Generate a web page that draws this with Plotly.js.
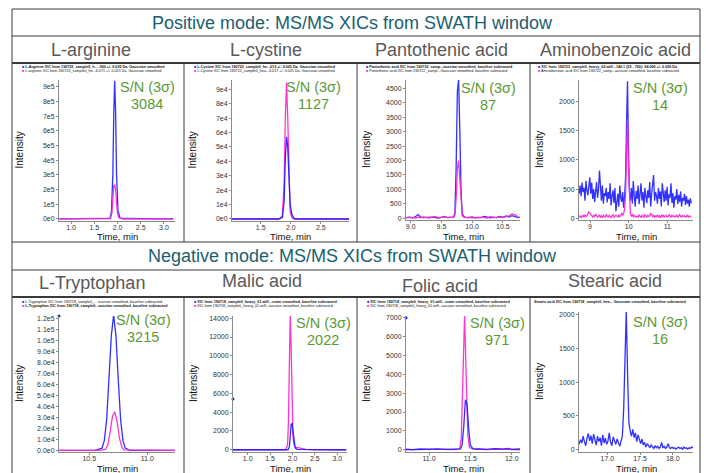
<!DOCTYPE html>
<html><head><meta charset="utf-8">
<script src="https://cdn.plot.ly/plotly-3.0.1.min.js"></script>
<style>html,body{margin:0;padding:0;background:#fff}#chart{width:706px;height:473px}</style>
</head><body><div id="chart"></div>
<script>
// ---------------- DATA ----------------
const sectionTitles = ['Positive mode: MS/MS XICs from SWATH window', 'Negative mode: MS/MS XICs from SWATH window'];
const compounds = ['L-arginine', 'L-cystine', 'Pantothenic acid', 'Aminobenzoic acid', 'L-Tryptophan', 'Malic acid', 'Folic acid', 'Stearic acid'];
const snValues = ['3084', '1127', '87', '14', '3215', '2022', '971', '16'];

// L-arginine
const argBlueT = [0.75,1.0,1.5,1.8,1.84,1.87,1.90,1.92,1.94,1.96,1.98,2.01,2.05,2.1,2.2,2.3,2.4,2.6,3.0,3.2];
const argBlueI = [0,0,0,0,3000,50000,300000,720000,940000,720000,300000,60000,8000,3000,2500,2000,1000,0,0,0];
const argPinkT = [0.75,1.0,1.5,1.8,1.85,1.88,1.90,1.92,1.94,1.96,1.98,2.0,2.03,2.06,2.1,2.2,2.3,2.5,3.0,3.2];
const argPinkI = [0,0,0,0,5000,40000,150000,225000,230000,200000,110000,40000,8000,2000,0,0,0,0,0,0];
// L-cystine
const cysPinkT = [1.0,1.5,1.8,1.86,1.89,1.91,1.93,1.95,1.97,1.99,2.02,2.05,2.5,2.97];
const cysPinkI = [0,0,0,2000,25000,70000,95000,70000,25000,5000,1000,0,0,0];
const cysBlueT = [1.0,1.5,1.8,1.86,1.89,1.91,1.93,1.95,1.97,1.99,2.02,2.05,2.08,2.5,2.97];
const cysBlueI = [0,0,0,1000,12000,42000,57000,50000,28000,10000,3000,800,0,0,0];
// Pantothenic acid
const panT = [8.93,8.98,9.03,9.08,9.12,9.16,9.2,9.25,9.3,9.35,9.4,9.45,9.5,9.55,9.6,9.65,9.7,9.72,9.74,9.76,9.78,9.80,9.82,9.84,9.87,9.9,9.95,10.0,10.05,10.1,10.15,10.2,10.25,10.3,10.35,10.4,10.45,10.5,10.55,10.6,10.65,10.7,10.75,10.8,10.85,10.88];
const panBlueI = [20,40,15,60,130,40,20,30,15,40,25,10,30,60,20,35,40,200,1800,4400,4800,3000,900,150,50,30,20,45,15,30,20,60,30,15,40,25,60,30,80,40,90,60,20,40,15,30];
const panPinkI = [10,30,20,10,40,20,50,30,10,40,60,20,30,50,20,40,30,100,700,1700,2000,1300,400,80,30,20,40,10,30,20,40,30,10,60,20,30,50,20,60,80,150,120,40,20,30,10];
// Aminobenzoic acid (sampled every 0.025 min from 8.72 min)
const abStart = 8.72, abStep = 0.025;
const abBlueI = [420,560,380,610,450,520,300,640,480,390,
  550,700,420,610,330,500,280,460,620,350,
  480,820,400,300,560,250,430,380,520,270,
  450,330,600,220,380,480,260,520,120,310,
  420,200,560,350,280,450,180,380,700,1600,
  2350,1200,450,300,520,250,640,380,200,470,
  330,560,240,420,600,300,450,180,520,380,
  260,480,350,620,200,420,560,740,300,450,
  380,250,520,330,460,200,600,350,280,480,
  300,540,220,410,350,600,260,430,180,380,
  320,500,240,400,280,460,200,350,300,420,
  230,380,250,320,200,340,260];
const abPinkI = [20,40,10,30,50,20,60,30,40,80,
  110,90,60,40,20,50,30,70,40,20,
  30,60,20,40,10,50,30,20,60,40,
  20,50,30,10,40,60,20,30,50,40,
  20,60,30,40,90,50,80,150,400,1100,
  1700,900,250,80,40,60,20,50,30,20,
  40,20,60,30,10,50,30,20,60,40,
  20,50,30,40,90,60,30,50,20,40,
  30,60,20,40,10,50,30,60,20,40,
  50,20,30,60,40,20,50,30,40,20,
  30,50,20,40,60,30,20,50,30,40,
  20,30,50,20,40,30,20];
// L-Tryptophan
const trpBlueT = [10.24,10.4,10.55,10.61,10.63,10.65,10.67,10.69,10.71,10.73,10.75,10.77,10.79,10.81,10.85,11.0,11.24];
const trpBlueI = [0,0,0,2000,9000,28000,64000,104000,123000,104000,64000,28000,9000,2000,0,0,0];
const trpPinkT = [10.24,10.4,10.6,10.64,10.66,10.68,10.70,10.72,10.74,10.76,10.78,10.8,11.0,11.24];
const trpPinkI = [0,0,0,1000,5000,17000,31000,35000,26000,11000,3000,500,0,0];
// Malic acid
const malPinkT = [0.67,1.0,1.5,1.85,1.89,1.91,1.93,1.95,1.97,1.99,2.01,2.03,2.06,2.1,2.2,2.3,2.5,3.0,3.2];
const malPinkI = [0,0,0,0,500,3000,9000,14300,11000,5000,1500,600,300,250,150,50,0,0,0];
const malBlueT = [0.67,1.0,1.5,1.9,1.93,1.95,1.97,1.99,2.01,2.03,2.06,2.1,2.5,3.0,3.2];
const malBlueI = [0,0,0,0,300,1500,2700,2800,2000,800,200,50,0,0,0];
// Folic acid
const folPinkT = [10.72,10.8,10.9,11.0,11.1,11.2,11.3,11.37,11.39,11.41,11.43,11.45,11.47,11.49,11.52,11.56,11.6,11.7,11.8,11.9,12.0,12.1];
const folPinkI = [0,20,10,30,10,20,10,40,600,3800,7100,3800,700,120,60,40,30,10,40,20,10,0];
const folBlueT = [10.72,10.8,10.9,11.0,11.1,11.2,11.3,11.38,11.40,11.42,11.44,11.46,11.48,11.50,11.53,11.56,11.6,11.7,11.8,11.9,11.95,12.0,12.1];
const folBlueI = [30,10,40,20,50,20,30,40,250,1200,2650,2400,1100,250,60,30,50,20,60,30,70,20,40];
// Stearic acid (sampled every 0.02 min from 16.57 min)
const steStart = 16.57, steStep = 0.02;
const steBlueI = [80,150,100,200,120,60,180,240,130,210,
  90,230,150,70,200,120,180,60,220,100,
  170,80,130,250,110,60,190,140,80,160,
  110,50,130,200,600,1600,2050,1100,400,280,
  200,300,180,250,120,220,150,90,160,70,
  110,40,90,50,30,70,40,20,60,30,
  50,20,40,110,30,50,20,40,90,30,
  20,40,20,30,10,20,40,20,30,10,
  40,20,30,10,30,20,40,30];
// cursor dots drawn on the y axis in the software export
const malCursor = [5400], folCursor = [7000], trpCursor = [122000];

// tick labels
const argYT = [0,1e5,2e5,3e5,4e5,5e5,6e5,7e5,8e5,9e5];
const argYL = ['0e0','1e5','2e5','3e5','4e5','5e5','6e5','7e5','8e5','9e5'];
const argXT = [1.0,1.5,2.0,2.5,3.0], argXL = ['1.0','1.5','2.0','2.5','3.0'];
const cysYT = [0,1e4,2e4,3e4,4e4,5e4,6e4,7e4,8e4,9e4];
const cysYL = ['0e0','1e4','2e4','3e4','4e4','5e4','6e4','7e4','8e4','9e4'];
const cysXT = [1.5,2.0,2.5], cysXL = ['1.5','2.0','2.5'];
const panYT = [0,500,1000,1500,2000,2500,3000,3500,4000,4500];
const panXT = [9.0,9.5,10.0,10.5], panXL = ['9.0','9.5','10.0','10.5'];
const abYT = [0,500,1000,1500,2000];
const abXT = [9,10,11], abXL = ['9','10','11'];
const trpYT = [0,1e4,2e4,3e4,4e4,5e4,6e4,7e4,8e4,9e4,1e5,1.1e5,1.2e5];
const trpYL = ['0.0e0','1.0e4','2.0e4','3.0e4','4.0e4','5.0e4','6.0e4','7.0e4','8.0e4','9.0e4','1.0e5','1.1e5','1.2e5'];
const trpXT = [10.5,11.0], trpXL = ['10.5','11.0'];
const malYT = [0,2000,4000,6000,8000,10000,12000,14000];
const malXT = [1.0,1.5,2.0,2.5,3.0], malXL = ['1.0','1.5','2.0','2.5','3.0'];
const folYT = [0,1000,2000,3000,4000,5000,6000,7000];
const folXT = [11.0,11.5,12.0], folXL = ['11.0','11.5','12.0'];
const steYT = [0,500,1000,1500,2000];
const steXT = [17.0,17.5,18.0], steXL = ['17.0','17.5','18.0'];

// legend strings
const legendLines = [
  ['L-Arginine XIC from 190722_sample0_h... .900 +/- 0.025 Da, Gaussian smoothed', 'L-arginine XIC from 190722_sample0_he...6.071 +/- 0.025 Da, Gaussian smoothed'],
  ['L-Cystine XIC from 190722_sample0_he...013 +/- 0.025 Da, Gaussian smoothed', 'L-Cystine XIC from 190722_sample0_hea...4.017 +/- 0.025 Da, Gaussian smoothed'],
  ['Pantothenic acid XIC from 190722_samp...aussian smoothed, baseline subtracted', 'Pantothenic acid XIC from 190722_sampl...Gaussian smoothed, baseline subtracted'],
  ['XIC from 190722_sample0_heavy_02.wiff...140.1 (25 - 700): 94.000 +/- 0.025 Da', 'Aminobenzoic acid XIC from 190722_samp...aussian smoothed, baseline subtracted'],
  ['L-Tryptophan XIC from 190718_sample0_... aussian smoothed, baseline subtracted', 'L-Tryptophan XIC from 190718_sample0...aussian smoothed, baseline subtracted'],
  ['XIC from 190718_sample0_heavy_01.wiff...ssian smoothed, baseline subtracted', 'XIC from 190718_sample0_heavy_01.wiff...aussian smoothed, baseline subtracted'],
  ['XIC from 190718_sample0_heavy_01.wiff...ssian smoothed, baseline subtracted', 'XIC from 190718_sample0_heavy_01.wiff...aussian smoothed, baseline subtracted'],
  ['Stearic acid XIC from 190718_sample0_hea... Gaussian smoothed, baseline subtracted']
];
const legendBold = [0, 0, 0, 0, 1, 0, 0, 0];

// ---------------- LAYOUT / STYLE ----------------
const W = 706, H = 473;
const BLUE = 'rgba(30,30,255,0.92)', PINK = 'rgba(255,40,210,0.95)';
const GREEN = '#5b9a32', TEAL = '#1b5e6f', GREY = '#595959';
const FONT = 'Liberation Sans, Arial, sans-serif';
const px = v => v / W, py = v => 1 - v / H;

// plot boxes [left,right,top,bottom] in px, with axis ranges
const boxes = [
  {b:[59,175,80,221],  xr:[0.742,3.237], yr:[-14000,946000], xt:argXT, xl:argXL, yt:argYT, yl:argYL},
  {b:[232,349,80,221], xr:[1.022,2.97],  yr:[-1400,96500],   xt:cysXT, xl:cysXL, yt:cysYT, yl:cysYL},
  {b:[406,520,80,220], xr:[8.923,10.78], yr:[-60,4790],      xt:panXT, xl:panXL, yt:panYT, yl:panYT.map(String)},
  {b:[579,693,80,220], xr:[8.715,11.665],yr:[-30,2370],      xt:abXT,  xl:abXL,  yt:abYT,  yl:abYT.map(String)},
  {b:[59,175,316,452], xr:[10.239,11.239],yr:[-1500,122000], xt:trpXT, xl:trpXL, yt:trpYT, yl:trpYL},
  {b:[233,347,316,452],xr:[0.672,3.217], yr:[-240,14240],    xt:malXT, xl:malXL, yt:malYT, yl:malYT.map(String)},
  {b:[406,520,316,452],xr:[10.722,12.1], yr:[-120,7090],     xt:folXT, xl:folXL, yt:folYT, yl:folYT.map(String)},
  {b:[579,693,312,452],xr:[16.567,18.31],yr:[-33,2035],      xt:steXT, xl:steXL, yt:steYT, yl:steYT.map(String)}
];

const series = [
  [[argBlueT,argBlueI,BLUE],[argPinkT,argPinkI,PINK]],
  [[cysPinkT,cysPinkI,PINK],[cysBlueT,cysBlueI,BLUE]],
  [[panT,panBlueI,BLUE],[panT,panPinkI,PINK]],
  [['ab',abBlueI,BLUE],['ab',abPinkI,PINK]],
  [[trpBlueT,trpBlueI,BLUE],[trpPinkT,trpPinkI,PINK]],
  [[malPinkT,malPinkI,PINK],[malBlueT,malBlueI,BLUE]],
  [[folPinkT,folPinkI,PINK],[folBlueT,folBlueI,BLUE]],
  [['ste',steBlueI,BLUE]]
];

const traces = [];
const layout = {
  width: W, height: H, margin: {l:0, r:0, t:0, b:0},
  paper_bgcolor: '#fff', plot_bgcolor: 'rgba(0,0,0,0)', showlegend: false,
  font: {family: FONT, color: '#222'},
  annotations: [], shapes: []
};

boxes.forEach((bx, i) => {
  const k = i === 0 ? '' : String(i + 1);
  const [l, r, t, b] = bx.b;
  layout['xaxis' + k] = {
    domain: [px(l), px(r)], range: bx.xr, anchor: 'y' + k,
    tickmode: 'array', tickvals: bx.xt, ticktext: bx.xl,
    tickfont: {size: 7, family: FONT, color: '#333'},
    showline: true, linecolor: '#8a8a8a', linewidth: 1, ticks: 'outside', ticklen: 2, tickcolor: '#8a8a8a',
    ticklabelstandoff: -2,
    showgrid: false, zeroline: false, fixedrange: true
  };
  layout['yaxis' + k] = {
    domain: [py(b), py(t)], range: bx.yr, anchor: 'x' + k,
    tickmode: 'array', tickvals: bx.yt, ticktext: bx.yl,
    tickfont: {size: 7, family: FONT, color: '#333'},
    showline: true, linecolor: '#8a8a8a', linewidth: 1, ticks: 'outside', ticklen: 2, tickcolor: '#8a8a8a',
    showgrid: false, zeroline: false, fixedrange: true
  };
  series[i].forEach(s => {
    const tr = {type: 'scatter', mode: 'lines', y: s[1], xaxis: 'x' + k, yaxis: 'y' + k,
      line: {color: s[2], width: 1.3}, hoverinfo: 'skip', cliponaxis: true};
    if (s[0] === 'ab') { tr.x0 = abStart; tr.dx = abStep; }
    else if (s[0] === 'ste') { tr.x0 = steStart; tr.dx = steStep; }
    else tr.x = s[0];
    traces.push(tr);
  });
  // axis titles
  const cx = (l + r) / 2;
  layout.annotations.push({xref:'paper', yref:'paper', x: px(cx), y: py(i < 4 ? 236.5 : 468), text: 'Time, min',
    showarrow: false, xanchor: 'center', yanchor: 'middle', font: {size: 9.5, family: FONT, color: '#111'}});
  layout.annotations.push({xref:'paper', yref:'paper', x: px(l - 40), y: py((t + b) / 2),
    text: 'Intensity', textangle: -90, showarrow: false, xanchor: 'center', yanchor: 'middle',
    font: {size: 10, family: FONT, color: '#111'}});
  // S/N labels
  const snx = [147, 313, 488, 660, 143, 323, 497, 660][i];
  const sny = [87, 87, 88, 88, 320, 323, 323, 322][i];
  layout.annotations.push({xref:'paper', yref:'paper', x: px(snx), y: py(sny), text: 'S/N (3σ)',
    showarrow: false, xanchor: 'center', yanchor: 'middle', font: {size: 14.5, family: FONT, color: GREEN}});
  layout.annotations.push({xref:'paper', yref:'paper', x: px(snx), y: py(sny + 17), text: snValues[i],
    showarrow: false, xanchor: 'center', yanchor: 'middle', font: {size: 14.5, family: FONT, color: GREEN}});
  // legend lines
  const lx = [20, 192, 364, 536, 20, 192, 365, 532][i];
  const ly0 = i < 4 ? 67 : 302;
  legendLines[i].forEach((txt, j) => {
    const isBold = (j === legendBold[i]);
    const markerColor = j === 0 ? '#1e1eff' : '#ff28d2';
    const body = (isBold ? '<b>' + txt + '</b>' : txt);
    const mark = i === 7 ? '' : '<span style="color:' + markerColor + '">■</span> ';
    layout.annotations.push({xref:'paper', yref:'paper', x: px(lx), y: py(ly0 + j * 4.4), text: mark + body,
      showarrow: false, xanchor: 'left', yanchor: 'middle', font: {size: 3.7, family: FONT, color: '#111'}});
  });
});

// cursor dots
traces.push({type:'scatter', mode:'markers', x:[boxes[4].xr[0]], y: trpCursor, xaxis:'x5', yaxis:'y5', marker:{color:'#1e1eff', size:3}, cliponaxis:false, hoverinfo:'skip'});
traces.push({type:'scatter', mode:'markers', x:[boxes[5].xr[0]], y: malCursor, xaxis:'x6', yaxis:'y6', marker:{color:'#1e1eff', size:3}, cliponaxis:false, hoverinfo:'skip'});
traces.push({type:'scatter', mode:'markers', x:[boxes[6].xr[0]], y: folCursor, xaxis:'x7', yaxis:'y7', marker:{color:'#1e1eff', size:3}, cliponaxis:false, hoverinfo:'skip'});

// section titles & compound names
layout.annotations.push({xref:'paper', yref:'paper', x: px(352), y: py(23), text: sectionTitles[0], showarrow:false,
  xanchor:'center', yanchor:'middle', font:{size: 18, family: FONT, color: TEAL}});
layout.annotations.push({xref:'paper', yref:'paper', x: px(352), y: py(256), text: sectionTitles[1], showarrow:false,
  xanchor:'center', yanchor:'middle', font:{size: 18, family: FONT, color: TEAL}});
const nameX = [91, 266, 441, 615, 92, 262, 440, 615];
const nameY = [50, 50, 50, 50, 283, 281, 286, 281];
compounds.forEach((c, i) => {
  layout.annotations.push({xref:'paper', yref:'paper', x: px(nameX[i]), y: py(nameY[i]), text: c, showarrow:false,
    xanchor:'center', yanchor:'middle', font:{size: 18, family: FONT, color: GREY}});
});

// frame lines
const L = (x0, y0, x1, y1, w) => layout.shapes.push({type:'line', xref:'paper', yref:'paper',
  x0: px(x0), y0: py(y0), x1: px(x1), y1: py(y1), line:{color:'#3a3a3a', width: w || 1}});
L(12, 9, 700, 9); L(12, 9, 12, 473); L(700, 9, 700, 473);
L(12, 36, 700, 36); L(12, 63, 700, 63, 2);
L(12, 242, 700, 242); L(12, 270, 700, 270); L(12, 297, 700, 297, 2);
[184, 357, 530].forEach(x => { L(x, 63, x, 242); L(x, 297, x, 473); });

Plotly.newPlot('chart', traces, layout, {displayModeBar: false, staticPlot: true});
</script></body></html>
